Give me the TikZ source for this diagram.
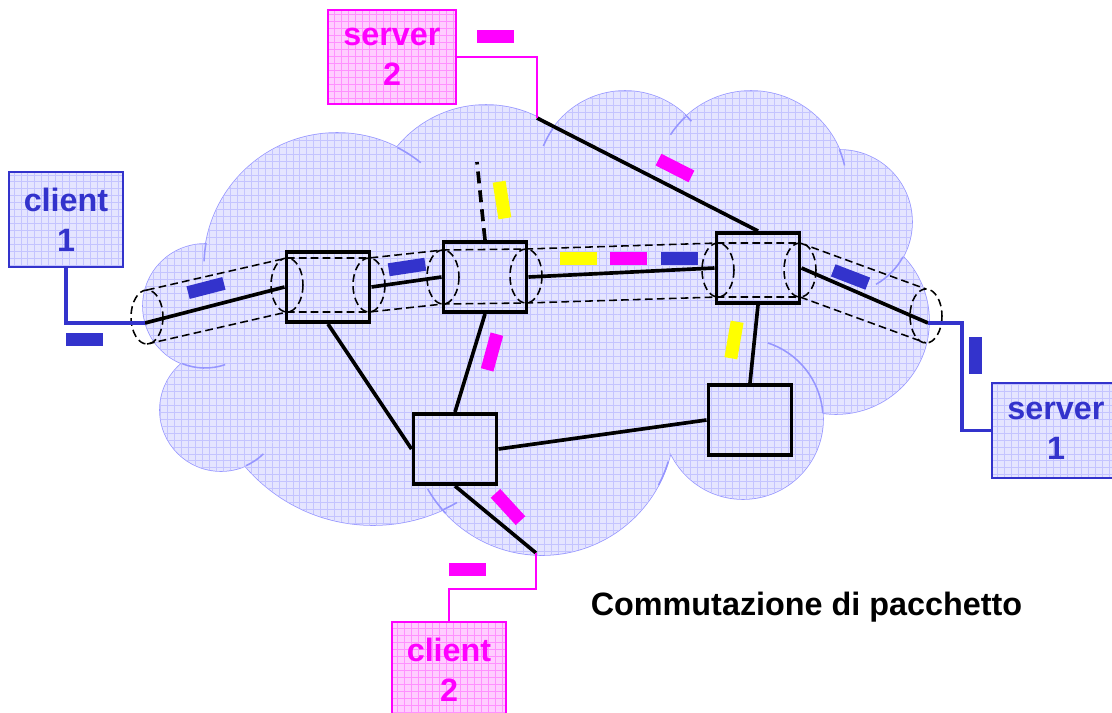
\documentclass[tikz,border=0pt]{standalone}
\usepackage{fontspec}
\setmainfont{Liberation Sans}
\usetikzlibrary{patterns}

\definecolor{cblue}{RGB}{51,51,204}
\definecolor{cmag}{RGB}{255,0,255}
\definecolor{cyel}{RGB}{255,255,0}
\definecolor{cloudbg}{RGB}{229,229,255}
\definecolor{cloudgrid}{RGB}{196,196,255}
\definecolor{cloudline}{RGB}{150,150,255}
\definecolor{pinkbg}{RGB}{255,206,255}
\definecolor{pinkgrid}{RGB}{255,145,255}

\pgfdeclarepatternformonly{finegrid}{\pgfqpoint{-1pt}{-1pt}}{\pgfqpoint{6pt}{6pt}}{\pgfqpoint{4.96pt}{4.96pt}}{%
  \pgfsetlinewidth{0.6pt}%
  \pgfpathmoveto{\pgfqpoint{0pt}{0pt}}\pgfpathlineto{\pgfqpoint{0pt}{4.96pt}}%
  \pgfpathmoveto{\pgfqpoint{0pt}{0pt}}\pgfpathlineto{\pgfqpoint{4.96pt}{0pt}}%
  \pgfusepath{stroke}}

\begin{document}
\begin{tikzpicture}[x=0.025cm, y=-0.025cm, >=stealth,
    cloudedge/.style={draw=cloudline, line width=1.1pt},
    cloudpart/.style={preaction={fill=cloudbg}, pattern=finegrid, pattern color=cloudgrid},
    switch/.style={draw, line width=2.8pt, minimum width=2.075cm, minimum height=1.75cm, inner sep=0pt},
    link/.style={line width=2.6pt},
    bigdash/.style={line width=2.6pt, dash pattern=on 8.5pt off 5pt},
    tube/.style={line width=1.1pt, dash pattern=on 5.5pt off 3pt},
    pkt/.style={minimum width=0.925cm, minimum height=0.325cm, inner sep=0pt},
    host/.style={line width=1.8pt, minimum width=2.85cm, minimum height=2.375cm, align=center,
      font=\fontsize{23}{28.5}\selectfont\bfseries},
    bluehost/.style={host, draw=cblue, text=cblue, preaction={fill=cloudbg}, pattern=finegrid, pattern color=cloudgrid},
    pinkhost/.style={host, draw=cmag, text=cmag, preaction={fill=pinkbg}, pattern=finegrid, pattern color=pinkgrid},
    blueline/.style={draw=cblue, line width=2.5pt},
    magline/.style={draw=cmag, line width=2pt}]
\useasboundingbox (0,0) rectangle (1112,712);
\clip (0,0) rectangle (1112,712);

\def\lumps{337/266/133, 486/220/115, 625/179/88, 751/187/96, 840/222/72, 836/321/93,
  743/419/80, 542/423/132, 373/357/168, 221/410/61, 205/306/62}
\foreach \cx/\cy/\r in \lumps {\draw[cloudedge] (\cx,\cy) circle (\r);}
\path[cloudpart] (337,266) -- (486,220) -- (625,179) -- (751,187) -- (840,222) -- (836,321)
  -- (743,419) -- (542,423) -- (373,357) -- (221,410) -- (205,306) -- cycle;
\foreach \cx/\cy/\r in \lumps {\path[cloudpart] (\cx,\cy) circle (\r);}
\foreach \cx/\cy/\r/\a/\b in {337/266/133/-63/-51, 337/266/133/-170/-178, 625/179/88/-158/-145,
    625/179/88/-47/-41, 751/187/96/-147/-133, 751/187/96/-23/-13, 840/222/72/29/60,
    743/419/80/-72/-4, 542/423/132/17/28, 542/423/132/137/150, 373/357/168/60/66,
    221/410/61/46/66, 205/306/62/71/112}
  \draw[cloudedge] ({\cx+\r*cos(\a)},{\cy+\r*sin(\a)}) arc[start angle=\a, end angle=\b, radius=\r];

% virtual circuit
\foreach \x/\y in {147/317, 287/285, 369/285, 443/277, 526/276, 718/270, 800/270, 926/316}
  \draw[tube] (\x,\y) ellipse [x radius=16, y radius=27];
\draw[tube] (147,290) -- (287,258) -- (369,258) -- (443,250) -- (526,249) -- (718,243) -- (800,243) -- (926,289);
\draw[tube] (147,344) -- (287,312) -- (369,312) -- (443,304) -- (526,303) -- (718,297) -- (800,297) -- (926,343);

\node[switch] (s1) at (328,287) {};
\node[switch] (s2) at (485,277) {};
\node[switch] (s3) at (758,268) {};
\node[switch] (s4) at (455,449) {};
\node[switch] (s5) at (750,420) {};

\coordinate (e1) at (145,323);
\coordinate (e2) at (928,323);
\coordinate (e3) at (537,118);
\coordinate (e4) at (536,553);
\coordinate (up) at (477,162);

\draw[link] (e1) -- (s1.west);
\draw[link] (s1.east) -- (s2.west);
\draw[link] (s2.east) -- (s3.west);
\draw[link] (s3.east) -- (e2);
\draw[link] (e3) -- (s3.north);
\draw[bigdash] (s2.north) -- (up);
\draw[link] (s2.south) -- (s4.north);
\draw[link] (s1.south) -- (s4.west);
\draw[link] (s4.east) -- (s5.west);
\draw[link] (s3.south) -- (s5.north);
\draw[link] (s4.south) -- (e4);

\node[bluehost] (c1) at (66,219.5) {client\\1};
\node[bluehost, minimum width=3.2cm] (sv1) at (1056,430.5) {server\\1};
\node[pinkhost, minimum width=3.2cm, minimum height=2.35cm] (sv2) at (392,57) {server\\2};
\node[pinkhost] (cl2) at (449,669.5) {client\\2};

\draw[blueline] (c1.south) |- (e1);
\draw[blueline] (e2) -- ++(34,0) |- (sv1.west);
\draw[magline] (sv2.east) -| (e3);
\draw[magline] (e4) -- ++(0,36) -| (cl2.north);

% packets
\node[pkt, fill=cblue] (pk1) at (84.5,339.5) {};
\node[pkt, fill=cblue, rotate=14.5] (pk2) at (206,288) {};
\node[pkt, fill=cblue, rotate=8.6] (pk3) at (407,267) {};
\node[pkt, fill=cyel, rotate=-81] (pk4) at (502,200) {};
\node[pkt, fill=cyel] (pk5) at (578.5,258.5) {};
\node[pkt, fill=cmag] (pk6) at (628.5,258.5) {};
\node[pkt, fill=cblue] (pk7) at (679,258.5) {};
\node[pkt, fill=cblue, rotate=-21] (pk8) at (850.5,277) {};
\node[pkt, fill=cblue, rotate=90] (pk9) at (975,355.5) {};
\node[pkt, fill=cmag, rotate=74.7] (pk10) at (492,352) {};
\node[pkt, fill=cyel, rotate=80.2] (pk11) at (734,340) {};
\node[pkt, fill=cmag, rotate=-47.5] (pk12) at (508,507) {};
\node[pkt, fill=cmag] (pk13) at (467.5,569.5) {};
\node[pkt, fill=cmag] (pk14) at (495.5,36.5) {};
\node[pkt, fill=cmag, rotate=-27] (pk15) at (675,168) {};

\node[font=\fontsize{23}{28.5}\selectfont\bfseries, anchor=base] (ttl) at (806.5,615) {Commutazione di pacchetto};
\end{tikzpicture}
\end{document}
